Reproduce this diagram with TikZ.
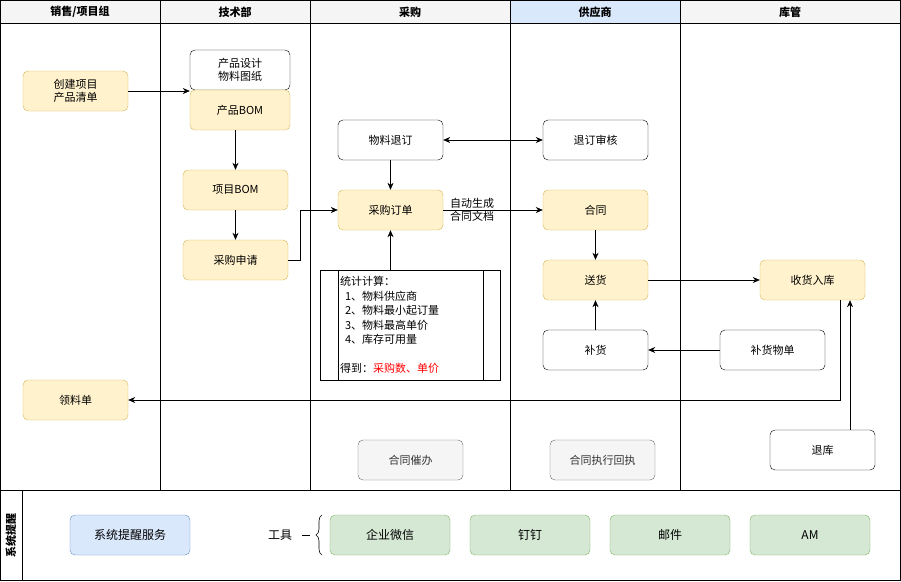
\documentclass[tikz,border=0pt]{standalone}
\usepackage{fontspec}
\setmainfont{Noto Sans CJK SC}
\usetikzlibrary{arrows.meta,decorations.pathreplacing}
\definecolor{yf}{HTML}{FFF2CC}\definecolor{ys}{HTML}{D6B656}
\definecolor{bf}{HTML}{DAE8FC}\definecolor{bs}{HTML}{6C8EBF}
\definecolor{gf}{HTML}{D5E8D4}\definecolor{gs}{HTML}{82B366}
\definecolor{hf}{HTML}{F5F5F5}\definecolor{hs}{HTML}{666666}
\begin{document}
\begin{tikzpicture}[x=1pt,y=-1pt,font=\fontsize{11}{13}\selectfont,
 box/.style={draw,rounded corners=5pt,minimum width=105pt,minimum height=40pt,align=center,inner sep=1pt},
 yel/.style={box,fill=yf,draw=ys},
 wht/.style={box,fill=white,draw=black},
 gry/.style={box,fill=hf,draw=hs,text=black!80},
 grn/.style={box,fill=gf,draw=gs,minimum width=120pt,font=\fontsize{12}{14}\selectfont},
 blu/.style={box,fill=bf,draw=bs,minimum width=120pt,font=\fontsize{12}{14}\selectfont},
 arr/.style={-{Stealth[length=7pt,width=6pt]},line width=0.6pt},
 hd/.style={font=\fontsize{11}{13}\selectfont\bfseries}]
\useasboundingbox (0,0) rectangle (901,581);
% headers
\fill[hf] (0,0) rectangle (510,23);
\fill[bf] (510,0) rectangle (680,23);
\fill[hf] (680,0) rectangle (900,23);
\draw[line width=0.6pt] (0.5,0.5) rectangle (900,580);
\draw (0,23)--(900,23);
\foreach \x in {160,310,510,680} \draw[line width=0.5pt] (\x,0)--(\x,490);
\draw[line width=0.8pt] (0,490)--(900,490);
\draw[line width=0.8pt] (22,490)--(22,580);
\node[hd] (h1) at (80,12) {销售/项目组};
\node[hd] (h2) at (235,12) {技术部};
\node[hd] (h3) at (410,12) {采购};
\node[hd] (h4) at (595,12) {供应商};
\node[hd] (h5) at (790,12) {库管};
\node[hd,rotate=90] (h6) at (11,535) {系统提醒};
% nodes
\node[yel] (cj) at (75.5,91) {创建项目\\产品清单};
\node[wht,minimum width=100pt] (sj) at (240,70) {产品设计\\物料图纸};
\node[yel,minimum width=100pt] (pb) at (240,110) {产品BOM};
\node[yel] (xb) at (235.5,190) {项目BOM};
\node[yel] (sq) at (235.5,260) {采购申请};
\node[wht] (td) at (390.5,140) {物料退订};
\node[yel] (dd) at (390.5,210) {采购订单};
\node[wht] (sh) at (595.5,140) {退订审核};
\node[yel] (ht) at (595.5,210) {合同};
\node[yel] (sg) at (595.5,280) {送货};
\node[wht] (bh) at (595.5,350) {补货};
\node[wht] (bw) at (772.5,350) {补货物单};
\node[yel] (rk) at (812.5,280) {收货入库};
\node[wht] (tk) at (822.5,450) {退库};
\node[yel] (ll) at (75.5,400) {领料单};
\node[gry] (cb) at (410.5,460) {合同催办};
\node[gry] (hz) at (602.5,460) {合同执行回执};
% stats box
\node[draw,minimum width=180pt,minimum height=110pt,inner sep=0pt] (tj) at (410,325) {};
\draw (338,270)--(338,380) (483,270)--(483,380);
\node[anchor=north west,align=left,inner sep=0pt,font=\fontsize{11}{14.5}\selectfont] (tjt) at (340,276)
 {统计计算：\\\ \ 1、物料供应商\\\ \ 2、物料最小起订量\\\ \ 3、物料最高单价\\\ \ 4、库存可用量\\[14pt]得到：\textcolor{red}{采购数、单价}};
% bottom
\node[blu] (tx) at (130,535) {系统提醒服务};
\node[font=\fontsize{12}{14}\selectfont] (gj) at (280,535) {工具};
\draw[decorate,decoration={brace,amplitude=6pt,mirror},line width=0.6pt] (322,515)--(322,555);
\draw (302,535)--(310,535);
\node[grn] (wx) at (390,535) {企业微信};
\node[grn] (dt) at (530,535) {钉钉};
\node[grn] (yj) at (670,535) {邮件};
\node[grn] (am) at (810,535) {AM};
% arrows
\draw[arr] (cj.east|-0,91) -- (pb.west|-0,91);
\draw[arr] (pb.south-|235.5,0) -- (xb);
\draw[arr] (xb) -- (sq);
\draw[arr] (sq.east) -- (300,260) -- (300,210) -- (dd.west);
\draw[arr] (td) -- (dd);
\draw[arr,{Stealth[length=7pt,width=6pt]}-{Stealth[length=7pt,width=6pt]}] (td) -- (sh);
\draw[arr] (dd) -- node[align=center,xshift=-21pt,inner sep=0pt] (lb) {自动生成\\合同文档} (ht);
\draw[arr] (tj.north-|390.5,0) -- (dd);
\draw[arr] (ht) -- (sg);
\draw[arr] (bh) -- (sg);
\draw[arr] (bw) -- (bh);
\draw[arr] (sg) -- (rk);
\draw[arr] (rk.south-|840,0) -- (840,400) -- (ll.east);
\draw[arr] (tk.north-|850,0) -- (rk.south-|850,0);
\end{tikzpicture}
\end{document}
